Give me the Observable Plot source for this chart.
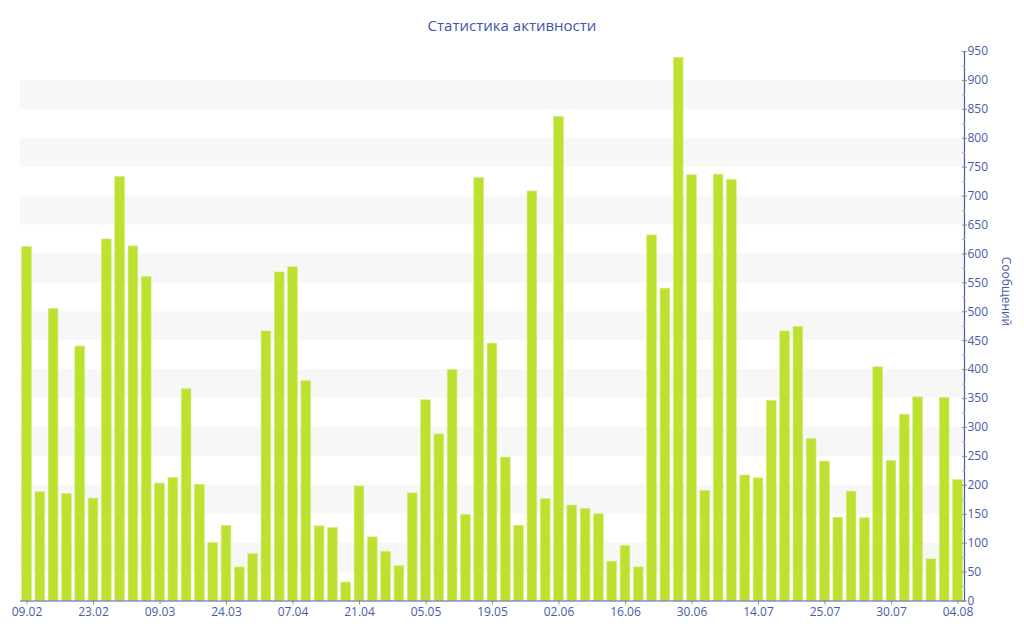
<!DOCTYPE html>
<html>
<head>
<meta charset="utf-8">
<script src="https://cdn.jsdelivr.net/npm/d3@7"></script>
<script src="https://cdn.jsdelivr.net/npm/@observablehq/plot@0.6"></script>
<style>
  body { margin: 0; background: #fff; }
  #title { height: 40px; box-sizing: border-box; padding-top: 15px; line-height: 20px; text-align: center;
    font-family: "Open Sans", sans-serif; font-size: 15px; color: #3f55a8; }
</style>
</head>
<body>
<div id="title">Статистика активности</div>
<div id="chart"></div>
<script>
const dates = [
  "09.02","12.02","14.02","17.02","20.02",
  "23.02","26.02","01.03","03.03","06.03",
  "09.03","12.03","15.03","18.03","21.03",
  "24.03","27.03","30.03","02.04","04.04",
  "07.04","10.04","13.04","16.04","18.04",
  "21.04","24.04","27.04","30.04","02.05",
  "05.05","08.05","11.05","14.05","16.05",
  "19.05","22.05","25.05","28.05","30.05",
  "02.06","05.06","08.06","11.06","13.06",
  "16.06","19.06","22.06","25.06","27.06",
  "30.06","03.07","06.07","09.07","11.07",
  "14.07","16.07","18.07","20.07","22.07",
  "25.07","26.07","27.07","28.07","29.07",
  "30.07","31.07","01.08","02.08","03.08",
  "04.08"
];
const messages = [
  612, 188, 505, 185, 440,
  177, 625, 733, 613, 560,
  203, 213, 366, 201, 100,
  130, 58, 81, 466, 568,
  577, 380, 129, 126, 32,
  198, 110, 85, 60, 186,
  347, 288, 399, 149, 731,
  445, 248, 130, 708, 176,
  837, 165, 159, 150, 68,
  95, 58, 632, 540, 939,
  736, 190, 737, 728, 217,
  212, 346, 466, 474, 280,
  241, 144, 189, 143, 404,
  242, 322, 352, 72, 351,
  209
];
const tickLabels = ["09.02","23.02","09.03","24.03","07.04","21.04","05.05","19.05","02.06","16.06","30.06","14.07","25.07","30.07","04.08"];
const yMajorTicks = d3.range(0, 951, 50);
const yMinorTicks = d3.range(25, 951, 50);
const shadedBandStarts = d3.range(50, 900, 100);

const data = dates.map((d, i) => ({date: d, value: messages[i]}));
const axisColor = "#4a5ba6";

const chart = Plot.plot({
  width: 1024,
  height: 600,
  marginTop: 11,
  marginBottom: 39.5,
  marginLeft: 20,
  marginRight: 60,
  style: {fontFamily: "'Open Sans', sans-serif", fontSize: "12px", color: axisColor, background: "white"},
  x: {domain: dates, paddingInner: 0.27, paddingOuter: 0.125, round: false, label: null},
  y: {domain: [0, 950], label: null},
  marks: [
    Plot.rect(shadedBandStarts, {y1: d => d, y2: d => d + 50, fill: "#f7f7f7"}),
    Plot.barY(data, {x: "date", y: "value", fill: "#bce12e", stroke: "#d3ec80", strokeWidth: 0.6}),
    Plot.axisX({ticks: tickLabels, tickSize: 4, tickPadding: 2, stroke: "#999", fill: axisColor, fontSize: 12}),
    Plot.ruleY([0], {stroke: axisColor, strokeWidth: 1.2}),
    Plot.frame({anchor: "right", stroke: axisColor, strokeWidth: 1.2}),
    Plot.axisY({anchor: "right", ticks: yMajorTicks, tickSize: 0, tickPadding: 3, fill: axisColor, fontSize: 12}),
    Plot.axisY({anchor: "right", ticks: yMajorTicks, tickSize: 5, dx: -3, text: null, stroke: "#888"}),
    Plot.axisY({anchor: "right", ticks: yMinorTicks, tickSize: 3, dx: -3, text: null, stroke: "#aaa"}),
    Plot.text(["Сообщений"], {frameAnchor: "right", dx: 41, rotate: 90, fill: axisColor, fontSize: 12})
  ]
});
document.getElementById("chart").append(chart);
</script>
</body>
</html>
